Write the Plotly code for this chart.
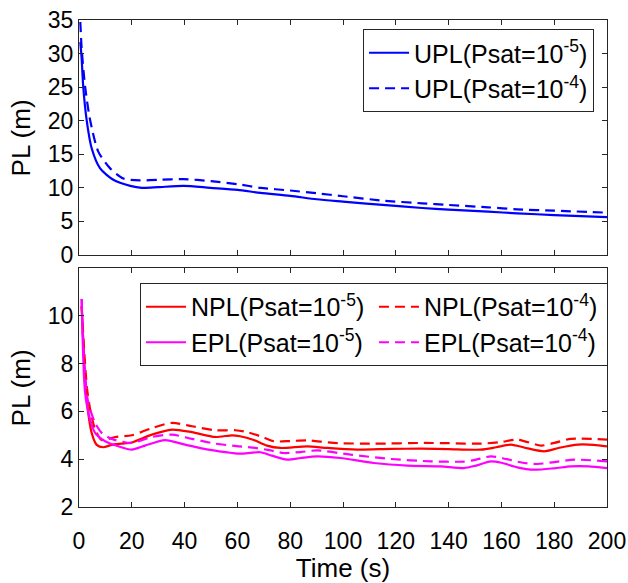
import plotly.graph_objects as go

# ---- data ----
upl5_t = [0.5, 1, 1.6, 2.9, 4.8, 8, 13, 19.4, 23.8, 30, 39.6, 49.7, 60, 68.7, 80, 90, 100, 115, 130, 140, 155, 166, 180, 200]
upl5_v = [31.7, 29.3, 25.1, 20.1, 15.9, 12.9, 11.2, 10.3, 10.0, 10.1, 10.3, 10.0, 9.7, 9.25, 8.8, 8.3, 7.95, 7.45, 7.0, 6.75, 6.45, 6.2, 5.95, 5.65]

upl4_t = [0.5, 1, 2.3, 4.2, 7.3, 11.8, 16.8, 23.1, 30, 39.6, 50, 60, 68.7, 80, 90, 100, 115, 130, 140, 155, 166, 180, 200]
upl4_v = [34.7, 30.8, 25.1, 20.1, 15.4, 12.9, 11.4, 11.1, 11.2, 11.3, 11.0, 10.55, 10.0, 9.6, 9.2, 8.75, 8.1, 7.7, 7.45, 7.1, 6.8, 6.6, 6.3]

npl5_t = [1, 2, 2.9, 4.8, 6.7, 9.2, 12.4, 16, 20, 27.6, 35.2, 42.8, 51.6, 58, 61, 66.2, 71.2, 76.3, 86.4, 94, 105.4, 118, 129.4, 140, 152.2, 158, 163.6, 170, 176.2, 182, 188.9, 195, 200]
npl5_v = [10.4, 8.0, 6.5, 5.1, 4.6, 4.5, 4.6, 4.65, 4.7, 5.03, 5.24, 5.13, 4.93, 5.0, 4.96, 4.8, 4.57, 4.47, 4.54, 4.47, 4.4, 4.43, 4.44, 4.42, 4.4, 4.5, 4.61, 4.45, 4.33, 4.48, 4.61, 4.6, 4.54]

npl4_t = [1, 2, 3, 4.2, 6.1, 8.6, 13.7, 20, 27.6, 35.2, 42.8, 51.6, 59.2, 63, 68.7, 73.7, 80, 86.4, 96.5, 111.7, 130.7, 140, 152.2, 160, 166.1, 175, 180, 186.3, 200]
npl4_v = [10.4, 8.5, 7.0, 6.1, 5.25, 4.8, 4.93, 5.0, 5.3, 5.52, 5.38, 5.21, 5.21, 5.15, 4.96, 4.75, 4.76, 4.79, 4.68, 4.65, 4.68, 4.67, 4.65, 4.72, 4.82, 4.57, 4.68, 4.85, 4.82]

epl5_t = [1, 2.3, 4.2, 6.1, 9.9, 14.9, 20, 25, 32.6, 40.2, 49, 58, 61.1, 68.7, 73, 78.8, 84, 90.2, 99, 111.7, 124.4, 137, 145.8, 150, 156, 160, 166, 172.4, 180, 186.3, 193, 200]
epl5_v = [10.7, 6.8, 5.66, 5.1, 4.75, 4.54, 4.4, 4.57, 4.8, 4.61, 4.4, 4.26, 4.23, 4.29, 4.15, 3.98, 4.05, 4.12, 4.05, 3.84, 3.73, 3.7, 3.63, 3.72, 3.91, 3.85, 3.66, 3.56, 3.62, 3.7, 3.7, 3.63]

epl4_t = [1, 2, 3.5, 6.1, 8.6, 12.4, 20, 27.6, 35.2, 42.8, 51.6, 60.5, 66.8, 72, 77.5, 84, 90.2, 102.8, 118, 133.2, 145.8, 150, 156, 162, 168, 173.7, 180, 187.6, 200]
epl4_v = [10.7, 8.0, 6.36, 5.52, 5.1, 4.85, 4.68, 4.93, 5.03, 4.85, 4.65, 4.54, 4.47, 4.38, 4.26, 4.3, 4.37, 4.19, 4.01, 3.91, 3.9, 3.97, 4.12, 4.0, 3.85, 3.8, 3.88, 3.98, 3.91]

top_yticks = [0, 5, 10, 15, 20, 25, 30, 35]
bot_yticks = [2, 4, 6, 8, 10]
xticks = [0, 20, 40, 60, 80, 100, 120, 140, 160, 180, 200]

BLUE = "rgb(0,0,255)"
RED = "rgb(255,0,0)"
MAG = "rgb(255,0,255)"
DASH = "10px,6px"
LW = 2.2
FONT = "Liberation Sans, Arial, sans-serif"

fig = go.Figure()

def add(t, v, name, color, dash, xa, ya, legend):
    fig.add_trace(go.Scatter(
        x=t, y=v, mode="lines", name=name,
        line=dict(color=color, width=LW, dash=dash, shape="spline", smoothing=0.7),
        xaxis=xa, yaxis=ya, legend=legend))

add(upl5_t, upl5_v, "UPL(Psat=10<sup>-5</sup>)", BLUE, "solid", "x", "y", "legend")
add(upl4_t, upl4_v, "UPL(Psat=10<sup>-4</sup>)", BLUE, DASH, "x", "y", "legend")
add(npl5_t, npl5_v, "NPL(Psat=10<sup>-5</sup>)", RED, "solid", "x2", "y2", "legend2")
add(npl4_t, npl4_v, "NPL(Psat=10<sup>-4</sup>)", RED, DASH, "x2", "y2", "legend2")
add(epl5_t, epl5_v, "EPL(Psat=10<sup>-5</sup>)", MAG, "solid", "x2", "y2", "legend2")
add(epl4_t, epl4_v, "EPL(Psat=10<sup>-4</sup>)", MAG, DASH, "x2", "y2", "legend2")

axis_common = dict(showline=True, linecolor="#262626", linewidth=1, mirror="ticks",
                   ticks="inside", ticklen=5, tickcolor="#262626", showgrid=False,
                   zeroline=False, automargin=False,
                   tickfont=dict(size=23, color="black", family=FONT))

TOP_DOM = [0.5175, 1.0]
BOT_DOM = [0.0, 0.4908]

fig.update_layout(
    width=628, height=583,
    margin=dict(l=79, r=21, t=20, b=76, autoexpand=False),
    paper_bgcolor="white", plot_bgcolor="white",
    font=dict(family=FONT, color="black", size=23),
    xaxis=dict(axis_common, domain=[0, 1], anchor="y", range=[0, 200], tickvals=xticks,
               showticklabels=False),
    yaxis=dict(axis_common, domain=TOP_DOM, anchor="x", range=[0, 35], tickvals=top_yticks),
    xaxis2=dict(axis_common, domain=[0, 1], anchor="y2", range=[0, 200], tickvals=xticks,
                ticklabelstandoff=13,
                title=dict(text="Time (s)", font=dict(size=26), standoff=6)),
    yaxis2=dict(axis_common, domain=BOT_DOM, anchor="x2", range=[2, 12], tickvals=bot_yticks),
    legend=dict(x=0.538, y=0.9815, xanchor="left", yanchor="top",
                bgcolor="white", bordercolor="#262626", borderwidth=1,
                font=dict(size=25, family=FONT), itemwidth=40, tracegroupgap=0),
    legend2=dict(x=0.1155, y=0.46, xanchor="left", yanchor="top", orientation="h",
                 entrywidth=178, bgcolor="white", bordercolor="#262626", borderwidth=1,
                 font=dict(size=25, family=FONT), itemwidth=40),
    showlegend=True,
)

# y-axis titles placed as annotations for exact horizontal position
for dom in (TOP_DOM, BOT_DOM):
    fig.add_annotation(text="PL (m)", xref="paper", yref="paper", x=-0.108,
                       y=(dom[0] + dom[1]) / 2, xanchor="center", yanchor="middle",
                       textangle=-90, showarrow=False,
                       font=dict(size=26, family=FONT, color="black"))

fig.write_html("out.html", post_script="document.body.style.margin='0px';",
               config={"displayModeBar": False})
